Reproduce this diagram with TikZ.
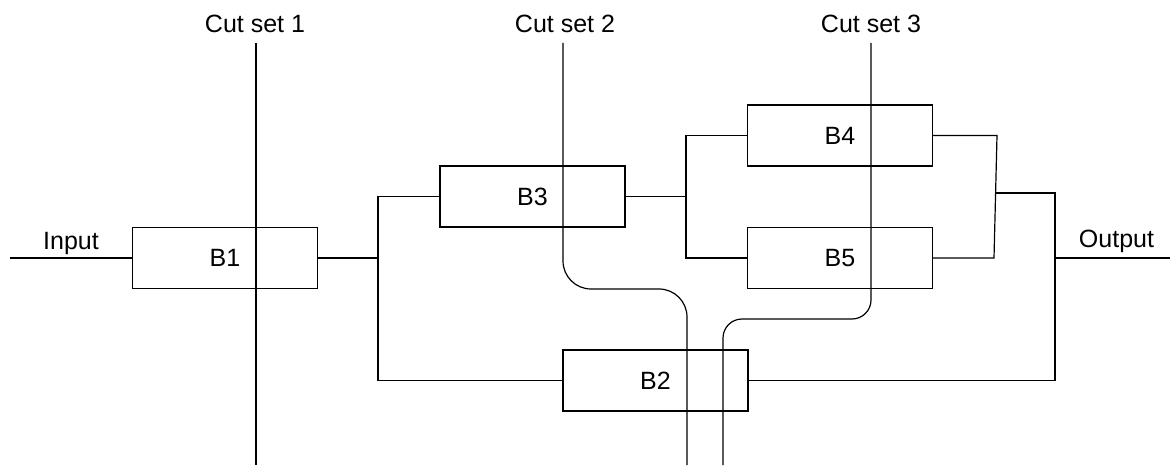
\documentclass[tikz,border=0pt]{standalone}
\usepackage{fontspec}
\setmainfont{Liberation Sans}
\usetikzlibrary{positioning,calc}

\begin{document}
\begin{tikzpicture}[x=1pt,y=-1pt,line width=1.2pt,
  font=\fontsize{25}{29}\selectfont,
  blk/.style={draw,minimum width=185pt,minimum height=61pt,inner sep=0pt},
  lbl/.style={inner sep=0pt,anchor=base}]
  \useasboundingbox (0,0) rectangle (1170,470);
  % blocks
  \node[blk] (b1) at (225,258) {B1};
  \node[blk] (b3) at (532.5,196.5) {B3};
  \node[blk] (b2) at (655.5,380.5) {B2};
  \node[blk] (b4) at (840,135.5) {B4};
  \node[blk] (b5) at (840,258) {B5};
  % junctions
  \coordinate (in) at (10,258);
  \coordinate (ja) at (378,258);
  \coordinate (jb) at (686,196.5);
  \coordinate (r4) at (997,135.5);
  \coordinate (r5) at (994,258);
  \coordinate (rm) at (995.6,193);
  \coordinate (jo) at (1055,258);
  \coordinate (out) at (1170,258);
  \node[lbl] (inlbl) at (71,250) {Input};
  \node[lbl] (outlbl) at (1116.5,248) {Output};
  % wiring
  \draw (in) -- (b1);
  \draw (b1) -- (ja);
  \draw (ja) |- (b3);
  \draw (ja) |- (b2);
  \draw (b3) -- (jb);
  \draw (jb) |- (b4);
  \draw (jb) |- (b5);
  \draw (b4) -- (r4) -- (r5) -- (b5);
  \draw (rm) -| (jo);
  \draw (jo) |- (b2);
  \draw (jo) -- (out);
  % cut sets
  \node[lbl] (cs1) at (255,33) {Cut set 1};
  \node[lbl] (cs2) at (565,33) {Cut set 2};
  \node[lbl] (cs3) at (871,33) {Cut set 3};
  \coordinate (c1t) at (256,43);
  \coordinate (c1b) at (256,465);
  \coordinate (c2t) at (563,43);
  \coordinate (c2b) at (687,465);
  \coordinate (c3t) at (871,43);
  \coordinate (c3b) at (723,465);
  \draw (c1t) -- (c1b);
  \draw[rounded corners=28pt] (c2t) |- (625,289) -| (c2b);
  \draw[rounded corners=19pt] (c3t) |- (800,319) -| (c3b);
\end{tikzpicture}
\end{document}
